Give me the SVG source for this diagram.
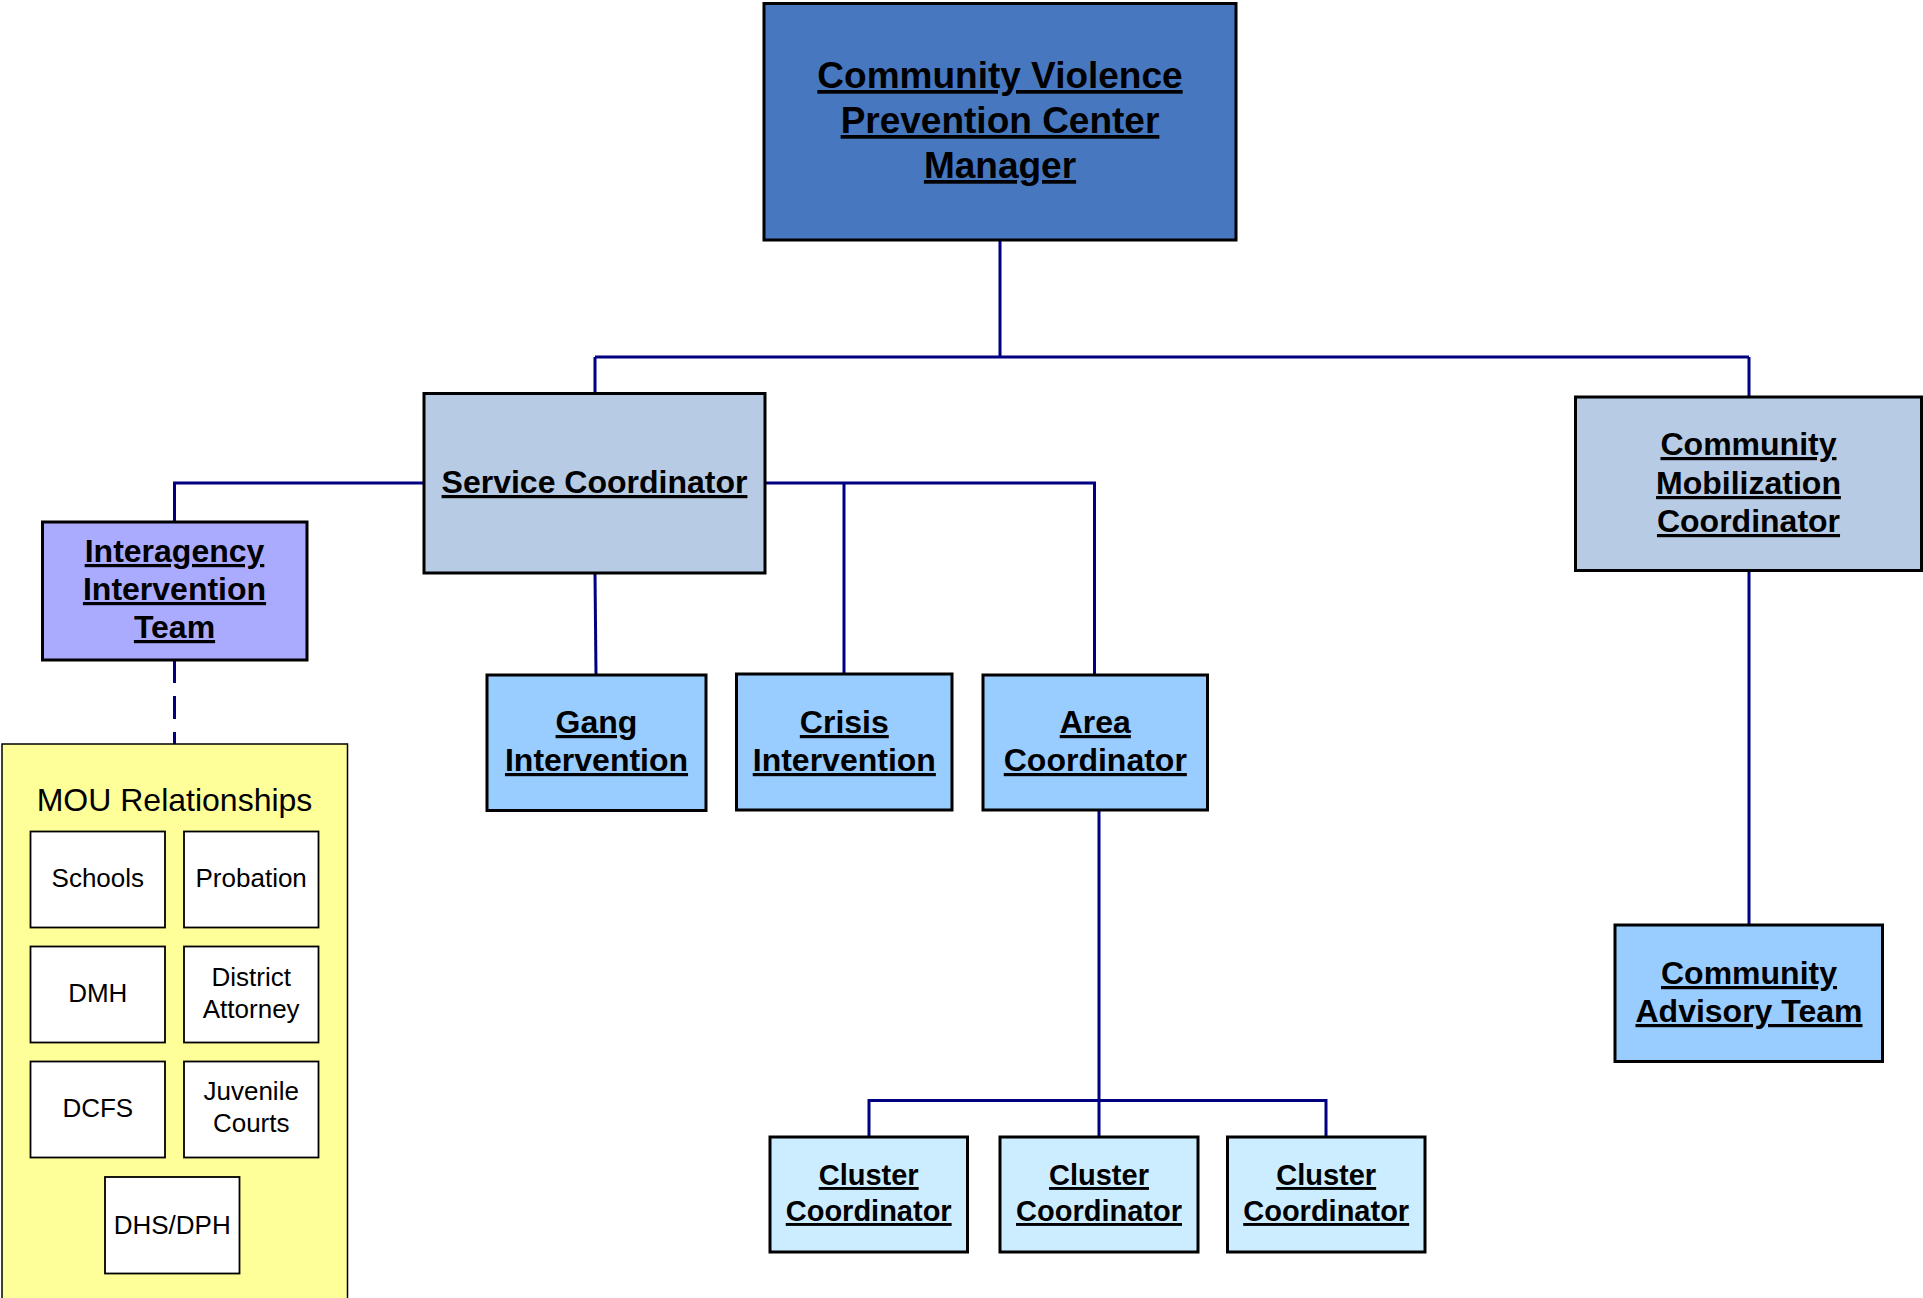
<svg xmlns="http://www.w3.org/2000/svg" width="1923" height="1298" viewBox="0 0 1923 1298">
<style>
.box{stroke:#000;stroke-width:3}
.sub{fill:#fff;stroke:#000;stroke-width:1.8}
.t{font-family:"Liberation Sans",Arial,sans-serif;font-weight:bold;text-decoration:underline;text-anchor:middle;fill:#000}
.r{font-family:"Liberation Sans",Arial,sans-serif;text-anchor:middle;fill:#000}
.c{fill:none;stroke:#000080;stroke-width:3}
</style>
<rect width="1923" height="1298" fill="#fff"/>
<g id="connectors">
<path class="c" d="M1000 240V357M595 357H1749M595 357V393M1749 357V397"/>
<path class="c" d="M424 483H174.5V522"/>
<path class="c" d="M174.5 660V744" stroke-dasharray="23 13"/>
<path class="c" d="M595 573L596 675"/>
<path class="c" d="M765 483H1094.5V675M844 483V674"/>
<path class="c" d="M1099 810V1137M869 1137V1100.5H1326V1137"/>
<path class="c" d="M1749 570V925"/>
</g>
<g id="manager">
<rect class="box" x="764" y="3.5" width="472" height="236.5" fill="#4677BF"/>
<text class="t" font-size="37" x="1000" y="88">Community Violence</text>
<text class="t" font-size="37" x="1000" y="133">Prevention Center</text>
<text class="t" font-size="37" x="1000" y="178">Manager</text>
</g>
<g id="service">
<rect class="box" x="424" y="393.5" width="341" height="179.5" fill="#B8CBE4"/>
<text class="t" font-size="32" x="594.5" y="493">Service Coordinator</text>
</g>
<g id="mobilization">
<rect class="box" x="1575.5" y="397" width="346" height="173.5" fill="#B8CBE4"/>
<text class="t" font-size="32" x="1748.5" y="455">Community</text>
<text class="t" font-size="32" x="1748.5" y="494">Mobilization</text>
<text class="t" font-size="32" x="1748.5" y="532">Coordinator</text>
</g>
<g id="interagency">
<rect class="box" x="42.5" y="522" width="264.5" height="138" fill="#AAAAFF"/>
<text class="t" font-size="32" x="174.5" y="562">Interagency</text>
<text class="t" font-size="32" x="174.5" y="600">Intervention</text>
<text class="t" font-size="32" x="174.5" y="638">Team</text>
</g>
<g id="gang">
<rect class="box" x="487" y="675" width="219" height="135.5" fill="#99CCFF"/>
<text class="t" font-size="32" x="596.5" y="733">Gang</text>
<text class="t" font-size="32" x="596.5" y="771">Intervention</text>
</g>
<g id="crisis">
<rect class="box" x="736.5" y="674" width="215.5" height="136" fill="#99CCFF"/>
<text class="t" font-size="32" x="844.3" y="733">Crisis</text>
<text class="t" font-size="32" x="844.3" y="771">Intervention</text>
</g>
<g id="area">
<rect class="box" x="983" y="675" width="224.5" height="135" fill="#99CCFF"/>
<text class="t" font-size="32" x="1095.3" y="733">Area</text>
<text class="t" font-size="32" x="1095.3" y="771">Coordinator</text>
</g>
<g id="cluster1">
<rect class="box" x="770" y="1137" width="197.5" height="115" fill="#CCECFF"/>
<text class="t" font-size="29" x="868.7" y="1185">Cluster</text>
<text class="t" font-size="29" x="868.7" y="1221">Coordinator</text>
</g>
<g id="cluster2">
<rect class="box" x="1000" y="1137" width="198" height="115" fill="#CCECFF"/>
<text class="t" font-size="29" x="1099" y="1185">Cluster</text>
<text class="t" font-size="29" x="1099" y="1221">Coordinator</text>
</g>
<g id="cluster3">
<rect class="box" x="1227.5" y="1137" width="197.5" height="115" fill="#CCECFF"/>
<text class="t" font-size="29" x="1326.2" y="1185">Cluster</text>
<text class="t" font-size="29" x="1326.2" y="1221">Coordinator</text>
</g>
<g id="advisory">
<rect class="box" x="1615" y="925" width="267.5" height="136.5" fill="#99CCFF"/>
<text class="t" font-size="32" x="1749" y="984">Community</text>
<text class="t" font-size="32" x="1749" y="1022">Advisory Team</text>
</g>
<g id="mou">
<rect x="2" y="744" width="345.5" height="556" fill="#FFFF99" stroke="#000" stroke-width="1.5"/>
<text class="r" font-size="32" x="174.5" y="811">MOU Relationships</text>
<g id="schools"><rect class="sub" x="30.5" y="831.5" width="134.5" height="96"/><text class="r" font-size="26" x="97.8" y="886.5">Schools</text></g>
<g id="probation"><rect class="sub" x="184" y="831.5" width="134.5" height="96"/><text class="r" font-size="26" x="251.2" y="886.5">Probation</text></g>
<g id="dmh"><rect class="sub" x="30.5" y="946.5" width="134.5" height="96"/><text class="r" font-size="26" x="97.8" y="1002">DMH</text></g>
<g id="da"><rect class="sub" x="184" y="946.5" width="134.5" height="96"/><text class="r" font-size="26" x="251.2" y="985.5">District</text><text class="r" font-size="26" x="251.2" y="1018">Attorney</text></g>
<g id="dcfs"><rect class="sub" x="30.5" y="1061.5" width="134.5" height="96"/><text class="r" font-size="26" x="97.8" y="1116.5">DCFS</text></g>
<g id="juvenile"><rect class="sub" x="184" y="1061.5" width="134.5" height="96"/><text class="r" font-size="26" x="251.2" y="1100">Juvenile</text><text class="r" font-size="26" x="251.2" y="1132">Courts</text></g>
<g id="dhs"><rect class="sub" x="105" y="1177" width="134.5" height="96.5"/><text class="r" font-size="26" x="172.2" y="1233.5">DHS/DPH</text></g>
</g>
</svg>
